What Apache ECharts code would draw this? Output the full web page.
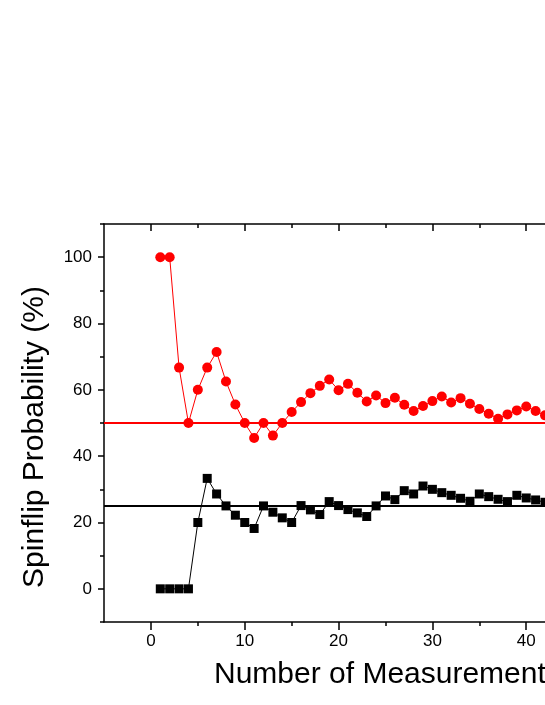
<!DOCTYPE html>
<html>
<head>
<meta charset="utf-8">
<script src="https://cdn.jsdelivr.net/npm/echarts@6.0.0/dist/echarts.min.js"></script>
<style>
  html, body { margin: 0; padding: 0; background: #fff; }
  #chart { width: 545px; height: 705px; }
</style>
</head>
<body>
<div id="chart"></div>
<script>
// measurement index 1..42
var measurements = [1, 2, 3, 4, 5, 6, 7, 8, 9, 10, 11, 12, 13, 14, 15, 16, 17, 18, 19, 20, 21,
  22, 23, 24, 25, 26, 27, 28, 29, 30, 31, 32, 33, 34, 35, 36, 37, 38, 39, 40, 41, 42]
// red circles
var redValues = [100, 100, 66.7, 50, 60, 66.7, 71.4, 62.5, 55.6, 50, 45.5, 50, 46.2, 50, 53.3,
  56.3, 59.0, 61.2, 63.1, 59.9, 61.8, 59.1, 56.5, 58.3, 56.0, 57.6, 55.5, 53.6, 55.1, 56.6,
  58.0, 56.2, 57.5, 55.8, 54.2, 52.8, 51.3, 52.6, 53.8, 55.0, 53.6, 52.3]
// black squares
var blackValues = [0, 0, 0, 0, 20, 33.3, 28.6, 25, 22.2, 20, 18.2, 25, 23.1, 21.4, 20,
  25.1, 23.8, 22.4, 26.3, 25.1, 23.9, 22.9, 21.8, 25.0, 28.0, 26.9, 29.6, 28.6, 31.0, 30.0,
  29.0, 28.2, 27.3, 26.4, 28.6, 27.8, 27.0, 26.3, 28.2, 27.4, 26.8, 26.1]
// reference levels
var redLevel = 50
var blackLevel = 25

var xRange = [-5, 42]
var yRange = [-10, 110]
var xMajorTicks = [0, 10, 20, 30, 40]
var xMinorTicks = [5, 15, 25, 35]
var yMajorTicks = [0, 20, 40, 60, 80, 100]
var yMinorTicks = [-10, 10, 30, 50, 70, 90, 110]

var font = '"Liberation Sans", Arial, sans-serif'

function pairs(xs, ys) {
  return xs.map(function (x, i) { return [x, ys[i]] })
}

function xAxisDef(pos, ticks, len, inside, showLine, showLabel) {
  return {
    type: 'value',
    position: pos,
    min: xRange[0],
    max: xRange[1],
    axisLine: { show: showLine, onZero: false, lineStyle: { color: '#000', width: 1.5 } },
    axisTick: { show: true, inside: inside, length: len, customValues: ticks, lineStyle: { color: '#000', width: 1.5 } },
    axisLabel: { show: showLabel, customValues: xMajorTicks, color: '#000', fontSize: 17, fontFamily: font, margin: 11 },
    splitLine: { show: false }
  }
}

function yAxisDef(ticks, len, showLine, showLabel) {
  return {
    type: 'value',
    position: 'left',
    min: yRange[0],
    max: yRange[1],
    axisLine: { show: showLine, onZero: false, lineStyle: { color: '#000', width: 1.5 } },
    axisTick: { show: true, length: len, customValues: ticks, lineStyle: { color: '#000', width: 1.5 } },
    axisLabel: { show: showLabel, customValues: yMajorTicks, color: '#000', fontSize: 17, fontFamily: font, margin: 12 },
    splitLine: { show: false }
  }
}

var chart = echarts.init(document.getElementById('chart'), null, { renderer: 'canvas' })

chart.setOption({
  animation: false,
  backgroundColor: '#fff',
  grid: { left: 104, top: 224, width: 442, height: 398 },
  xAxis: [
    xAxisDef('bottom', xMajorTicks, 8, false, true, true),
    xAxisDef('bottom', xMinorTicks, 4, false, false, false),
    xAxisDef('top', xMajorTicks, 7, true, true, false),
    xAxisDef('top', xMinorTicks, 4, true, false, false)
  ],
  yAxis: [
    yAxisDef(yMajorTicks, 6, true, true),
    yAxisDef(yMinorTicks, 4, false, false)
  ],
  graphic: [
    {
      type: 'text',
      x: 35,
      y: 437,
      rotation: Math.PI / 2,
      style: {
        text: 'Spinflip Probability (%)',
        font: '30px ' + font,
        fill: '#000',
        align: 'center',
        verticalAlign: 'middle'
      }
    },
    {
      type: 'text',
      x: 214,
      y: 675,
      style: {
        text: 'Number of Measurements',
        font: '30px ' + font,
        fill: '#000',
        align: 'left',
        verticalAlign: 'middle'
      }
    }
  ],
  series: [
    {
      name: 'red level',
      type: 'line',
      z: 1,
      showSymbol: false,
      data: [[xRange[0], redLevel], [xRange[1], redLevel]],
      lineStyle: { color: '#ff0000', width: 2 },
      silent: true
    },
    {
      name: 'black level',
      type: 'line',
      z: 1,
      showSymbol: false,
      data: [[xRange[0], blackLevel], [xRange[1], blackLevel]],
      lineStyle: { color: '#000', width: 2 },
      silent: true
    },
    {
      name: 'red',
      type: 'line',
      z: 3,
      data: pairs(measurements, redValues),
      symbol: 'circle',
      symbolSize: 10,
      clip: false,
      lineStyle: { color: '#ff0000', width: 1 },
      itemStyle: { color: '#ff0000' }
    },
    {
      name: 'black',
      type: 'line',
      z: 3,
      data: pairs(measurements, blackValues),
      symbol: 'rect',
      symbolSize: 9,
      clip: false,
      lineStyle: { color: '#000', width: 1 },
      itemStyle: { color: '#000' }
    }
  ]
})
</script>
</body>
</html>
